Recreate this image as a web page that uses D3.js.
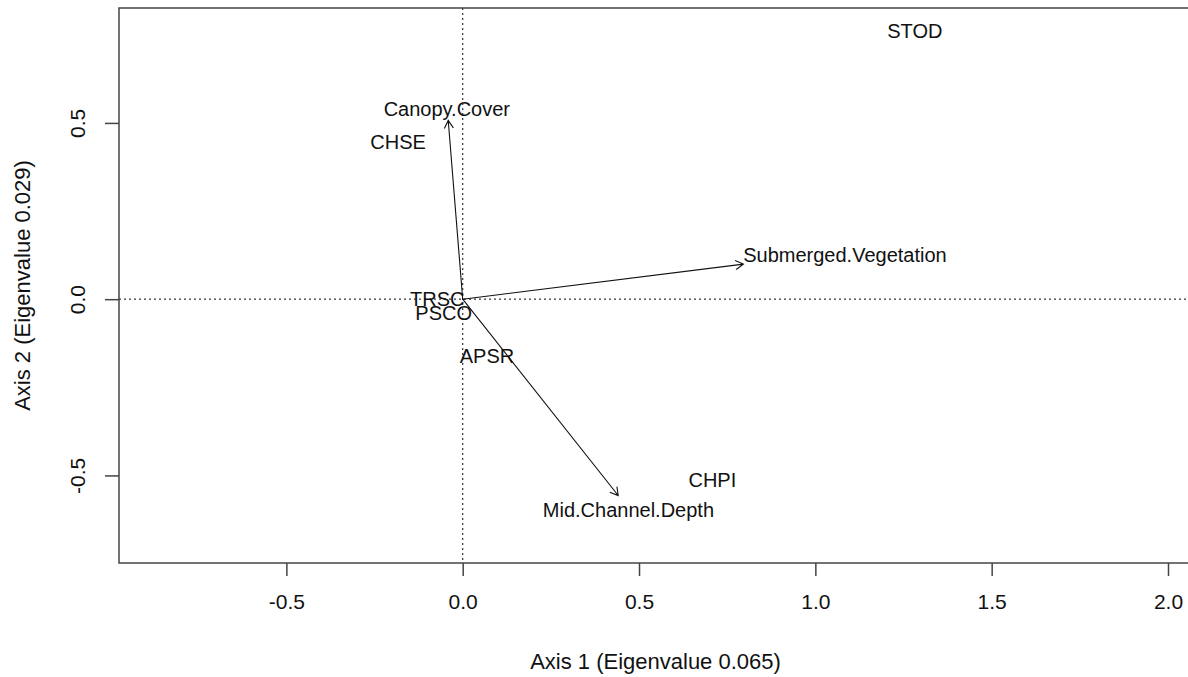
<!DOCTYPE html>
<html>
<head>
<meta charset="utf-8">
<script src="https://cdn.jsdelivr.net/npm/d3@7"></script>
<style>
  body { margin: 0; background: #fff; }
  svg { display: block; font-family: "Liberation Sans", Arial, sans-serif; }
</style>
</head>
<body>
<div id="chart"></div>
<script>
// Species scores (site/species labels, centred on their position)
const speciesNames = ["STOD", "CHSE", "TRSC", "PSCO", "APSR", "CHPI"];
const speciesX = [1.282, -0.183, -0.072, -0.054, 0.069, 0.708];
const speciesY = [0.761, 0.446, 0.000, -0.038, -0.161, -0.514];

// Environmental vectors: arrow tips and label positions
const envNames = ["Canopy.Cover", "Submerged.Vegetation", "Mid.Channel.Depth"];
const envX = [-0.041, 0.796, 0.441];
const envY = [0.507, 0.0995, -0.557];
const envLabelX = [-0.045, 1.084, 0.470];
const envLabelY = [0.539, 0.126, -0.597];

// Axis ticks and titles
const xTicks = [-0.5, 0.0, 0.5, 1.0, 1.5, 2.0];
const yTicks = [-0.5, 0.0, 0.5];
const xTitle = "Axis 1 (Eigenvalue 0.065)";
const yTitle = "Axis 2 (Eigenvalue 0.029)";

function drawChart() {
    const width = 1188;
    const height = 677;
    const plot = { left: 119, right: 1190, top: 8, bottom: 563 };

    const svg = d3.select("#chart")
        .append("svg")
        .attr("width", width)
        .attr("height", height);

    const xScale = d3.scaleLinear()
        .domain([-0.9746, 2.0624])
        .range([plot.left, plot.right]);

    const yScale = d3.scaleLinear()
        .domain([-0.7484, 0.826])
        .range([plot.bottom, plot.top]);

    // clip everything inside the box
    svg.append("clipPath")
        .attr("id", "clip")
        .append("rect")
        .attr("x", plot.left)
        .attr("y", plot.top)
        .attr("width", plot.right - plot.left)
        .attr("height", plot.bottom - plot.top);

    const inner = svg.append("g").attr("clip-path", "url(#clip)");

    // dotted reference lines through the origin
    inner.append("line")
        .attr("x1", xScale(0)).attr("x2", xScale(0))
        .attr("y1", plot.top).attr("y2", plot.bottom)
        .attr("stroke", "#333")
        .attr("stroke-width", 1.2)
        .attr("stroke-dasharray", "2,3");

    inner.append("line")
        .attr("x1", plot.left).attr("x2", plot.right)
        .attr("y1", yScale(0)).attr("y2", yScale(0))
        .attr("stroke", "#333")
        .attr("stroke-width", 1.2)
        .attr("stroke-dasharray", "2,3");

    // species labels
    inner.selectAll(".species")
        .data(speciesNames)
        .join("text")
        .attr("class", "species")
        .attr("x", (d, i) => xScale(speciesX[i]))
        .attr("y", (d, i) => yScale(speciesY[i]))
        .attr("text-anchor", "middle")
        .attr("dominant-baseline", "central")
        .attr("font-size", 20)
        .attr("fill", "#111")
        .text(d => d);

    // arrows
    const x0 = xScale(0), y0 = yScale(0);
    const headLen = 9;
    const headAngle = Math.PI / 6;
    const arrows = inner.selectAll(".arrow")
        .data(envNames)
        .join("g")
        .attr("class", "arrow");

    arrows.append("path")
        .attr("fill", "none")
        .attr("stroke", "#111")
        .attr("stroke-width", 1.1)
        .attr("d", (d, i) => {
            const x1 = xScale(envX[i]), y1 = yScale(envY[i]);
            const a = Math.atan2(y1 - y0, x1 - x0);
            const p = d3.path();
            p.moveTo(x0, y0);
            p.lineTo(x1, y1);
            p.moveTo(x1 - headLen * Math.cos(a - headAngle), y1 - headLen * Math.sin(a - headAngle));
            p.lineTo(x1, y1);
            p.lineTo(x1 - headLen * Math.cos(a + headAngle), y1 - headLen * Math.sin(a + headAngle));
            return p.toString();
        });

    arrows.append("text")
        .attr("x", (d, i) => xScale(envLabelX[i]))
        .attr("y", (d, i) => yScale(envLabelY[i]))
        .attr("text-anchor", "middle")
        .attr("dominant-baseline", "central")
        .attr("font-size", 20)
        .attr("fill", "#111")
        .text(d => d);

    // box
    svg.append("rect")
        .attr("x", plot.left)
        .attr("y", plot.top)
        .attr("width", plot.right - plot.left)
        .attr("height", plot.bottom - plot.top)
        .attr("fill", "none")
        .attr("stroke", "#444")
        .attr("stroke-width", 1.5);

    // x axis
    const xAxis = svg.append("g")
        .attr("transform", `translate(0,${plot.bottom})`)
        .call(d3.axisBottom(xScale)
            .tickValues(xTicks)
            .tickSize(13)
            .tickPadding(18)
            .tickFormat(d => d.toFixed(1)));
    xAxis.select(".domain").remove();
    xAxis.selectAll("line").attr("stroke", "#444").attr("stroke-width", 1.5);
    xAxis.selectAll("text")
        .attr("font-size", 21)
        .attr("font-family", "Liberation Sans, Arial, sans-serif")
        .attr("fill", "#111");

    // y axis (labels rotated, parallel to the axis)
    const yAxis = svg.append("g")
        .attr("transform", `translate(${plot.left},0)`)
        .call(d3.axisLeft(yScale)
            .tickValues(yTicks)
            .tickSize(14)
            .tickFormat(d => d.toFixed(1)));
    yAxis.select(".domain").remove();
    yAxis.selectAll("line").attr("stroke", "#444").attr("stroke-width", 1.5);
    yAxis.selectAll("text")
        .attr("x", null)
        .attr("dy", null)
        .attr("transform", "translate(-42,0) rotate(-90)")
        .attr("text-anchor", "middle")
        .attr("dominant-baseline", "central")
        .attr("font-size", 21)
        .attr("font-family", "Liberation Sans, Arial, sans-serif")
        .attr("fill", "#111");

    // axis titles
    svg.append("text")
        .attr("x", (plot.left + 1188) / 2 + 2)
        .attr("y", 661)
        .attr("text-anchor", "middle")
        .attr("dominant-baseline", "central")
        .attr("font-size", 22)
        .attr("fill", "#111")
        .text(xTitle);

    svg.append("text")
        .attr("transform", `translate(22,${(plot.top + plot.bottom) / 2}) rotate(-90)`)
        .attr("text-anchor", "middle")
        .attr("dominant-baseline", "central")
        .attr("font-size", 22)
        .attr("fill", "#111")
        .text(yTitle);
}

drawChart();
</script>
</body>
</html>
